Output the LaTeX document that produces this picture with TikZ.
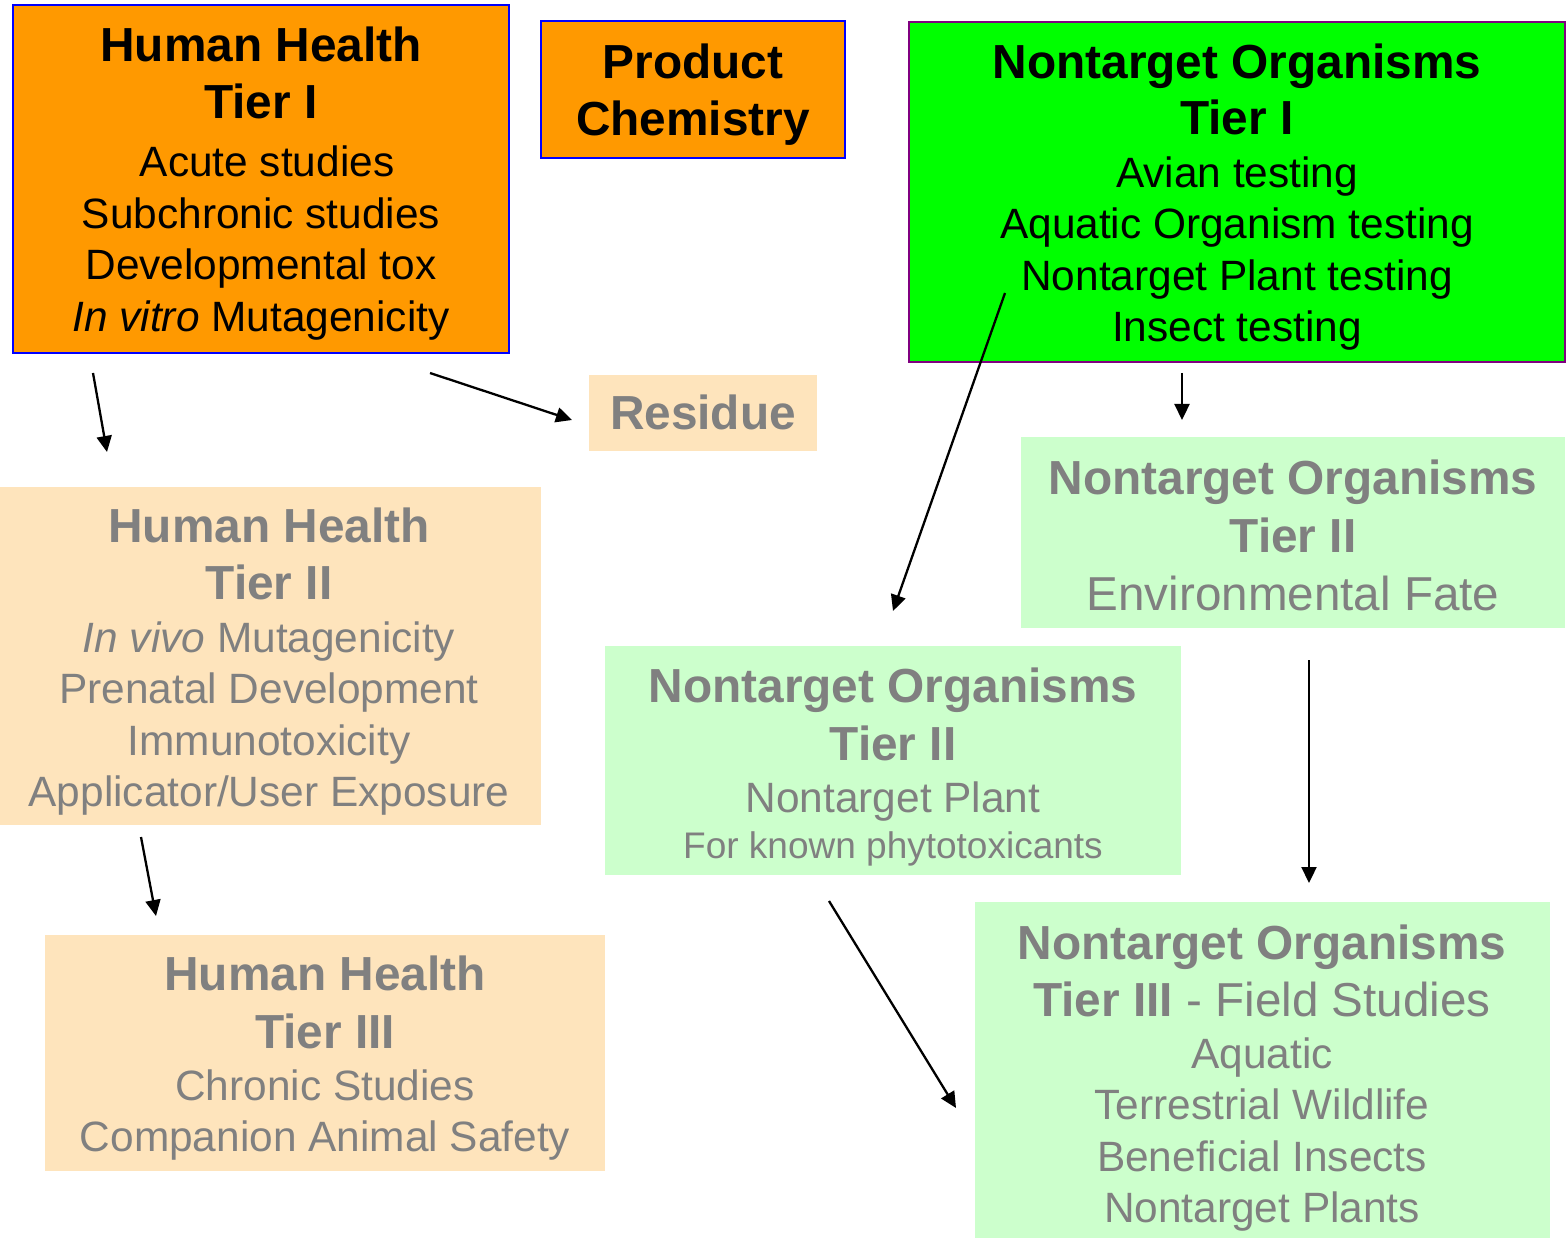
\documentclass[tikz,border=0pt]{standalone}
\usepackage{fontspec}
\setmainfont{Liberation Sans}
\usetikzlibrary{arrows.meta}
\definecolor{hhorange}{HTML}{FF9900}
\definecolor{boxblue}{HTML}{0000FF}
\definecolor{ntogreen}{HTML}{00FF00}
\definecolor{boxpurple}{HTML}{800080}
\definecolor{fadeorange}{HTML}{FEE4BC}
\definecolor{fadegreen}{HTML}{CCFFCC}
\definecolor{fadetext}{HTML}{808080}
\newcommand\bigb{\fontsize{47.8pt}{57pt}\selectfont\bfseries}
\newcommand\regl{\fontsize{42.4pt}{50pt}\selectfont}
\newcommand\regL{\fontsize{47.6pt}{57pt}\selectfont}
\newcommand\regs{\fontsize{37pt}{44pt}\selectfont}
\begin{document}
\begin{tikzpicture}[x=1pt,y=-1pt,
  solidbox/.style={rectangle, inner sep=0pt, line width=2pt},
  fadebox/.style={rectangle, inner sep=0pt, draw=none},
  txt/.style={anchor=base, inner sep=0pt, text=black},
  ftxt/.style={anchor=base, inner sep=0pt, text=fadetext},
  arr/.style={line width=2.3pt, -{Triangle[length=16pt,width=15pt]}}
]
\useasboundingbox (0,0) rectangle (1567,1238);

% ---- boxes ----
\node[solidbox, fill=hhorange, draw=boxblue, minimum width=496pt, minimum height=348pt] (hh1) at (261,179) {};
\node[solidbox, fill=hhorange, draw=boxblue, minimum width=304pt, minimum height=137pt] (pc) at (693,89.5) {};
\node[solidbox, fill=ntogreen, draw=boxpurple, minimum width=656pt, minimum height=340pt] (nto1) at (1237,192) {};
\node[fadebox, fill=fadeorange, minimum width=228pt, minimum height=76pt] (res) at (703,413) {};
\node[fadebox, fill=fadeorange, minimum width=541pt, minimum height=338pt] (hh2) at (270.5,656) {};
\node[fadebox, fill=fadegreen, minimum width=544pt, minimum height=191pt] (nto2e) at (1293,532.5) {};
\node[fadebox, fill=fadegreen, minimum width=576pt, minimum height=229pt] (nto2p) at (893,760.5) {};
\node[fadebox, fill=fadeorange, minimum width=560pt, minimum height=236pt] (hh3) at (325,1053) {};
\node[fadebox, fill=fadegreen, minimum width=575pt, minimum height=336pt] (nto3) at (1262.5,1070) {};

% ---- texts: Human Health Tier I ----
\node[txt] (hh1a) at (261,62) {\bigb Human Health};
\node[txt] (hh1b) at (261,119) {\bigb Tier I};
\node[txt] (hh1c) at (267,177) {\regl Acute studies};
\node[txt] (hh1d) at (261,229) {\regl Subchronic studies};
\node[txt] (hh1e) at (261,280) {\regl Developmental tox};
\node[txt] (hh1f) at (261,332) {\regl \itshape In vitro\upshape{} Mutagenicity};

% ---- Product Chemistry ----
\node[txt] (pca) at (693,79) {\bigb Product};
\node[txt] (pcb) at (693,136) {\bigb Chemistry};

% ---- NTO Tier I ----
\node[txt] (nto1a) at (1237,79) {\bigb Nontarget Organisms};
\node[txt] (nto1b) at (1237,135) {\bigb Tier I};
\node[txt] (nto1c) at (1237,188) {\regl Avian testing};
\node[txt] (nto1d) at (1237,239) {\regl Aquatic Organism testing};
\node[txt] (nto1e) at (1237,291) {\regl Nontarget Plant testing};
\node[txt] (nto1f) at (1237,342) {\regl Insect testing};

% ---- Residue ----
\node[ftxt] (resa) at (703,430) {\bigb Residue};

% ---- Human Health Tier II ----
\node[ftxt] (hh2a) at (269,542) {\bigb Human Health};
\node[ftxt] (hh2b) at (269,599) {\bigb Tier II};
\node[ftxt] (hh2c) at (269,652) {\regl \itshape In vivo\upshape{} Mutagenicity};
\node[ftxt] (hh2d) at (269,703) {\regl Prenatal Development};
\node[ftxt] (hh2e) at (269,755) {\regl Immunotoxicity};
\node[ftxt] (hh2f) at (269,806) {\regl Applicator/User Exposure};

% ---- NTO Tier II env fate ----
\node[ftxt] (nto2ea) at (1293,494) {\bigb Nontarget Organisms};
\node[ftxt] (nto2eb) at (1293,552) {\bigb Tier II};
\node[ftxt] (nto2ec) at (1293,610) {\regL Environmental Fate};

% ---- NTO Tier II plant ----
\node[ftxt] (nto2pa) at (893,702) {\bigb Nontarget Organisms};
\node[ftxt] (nto2pb) at (893,760) {\bigb Tier II};
\node[ftxt] (nto2pc) at (893,812) {\regl Nontarget Plant};
\node[ftxt] (nto2pd) at (893,858) {\regs For known phytotoxicants};

% ---- Human Health Tier III ----
\node[ftxt] (hh3a) at (325,990) {\bigb Human Health};
\node[ftxt] (hh3b) at (325,1048) {\bigb Tier III};
\node[ftxt] (hh3c) at (325,1100) {\regl Chronic Studies};
\node[ftxt] (hh3d) at (325,1151) {\regl Companion Animal Safety};

% ---- NTO Tier III ----
\node[ftxt] (nto3a) at (1262,959) {\bigb Nontarget Organisms};
\node[ftxt] (nto3b) at (1262,1016) {{\bigb Tier III}\regL{} - Field Studies};
\node[ftxt] (nto3c) at (1262,1068) {\regl Aquatic};
\node[ftxt] (nto3d) at (1262,1119) {\regl Terrestrial Wildlife};
\node[ftxt] (nto3e) at (1262,1171) {\regl Beneficial Insects};
\node[ftxt] (nto3f) at (1262,1222) {\regl Nontarget Plants};

% ---- arrow end points ----
\coordinate (a1s) at (93,373);   \coordinate (a1e) at (107,452);
\coordinate (a2s) at (430,373);  \coordinate (a2e) at (572,420);
\coordinate (a3s) at (1005,293); \coordinate (a3e) at (893,611);
\coordinate (a4s) at (1182,373); \coordinate (a4e) at (1182,420);
\coordinate (a5s) at (1309,660); \coordinate (a5e) at (1309,883);
\coordinate (a6s) at (141,837);  \coordinate (a6e) at (156,916);
\coordinate (a7s) at (829,901);  \coordinate (a7e) at (956,1108);

\draw[arr] (a1s) -- (a1e);
\draw[arr] (a2s) -- (a2e);
\draw[arr] (a3s) -- (a3e);
\draw[arr] (a4s) -- (a4e);
\draw[arr] (a5s) -- (a5e);
\draw[arr] (a6s) -- (a6e);
\draw[arr] (a7s) -- (a7e);
\end{tikzpicture}
\end{document}
